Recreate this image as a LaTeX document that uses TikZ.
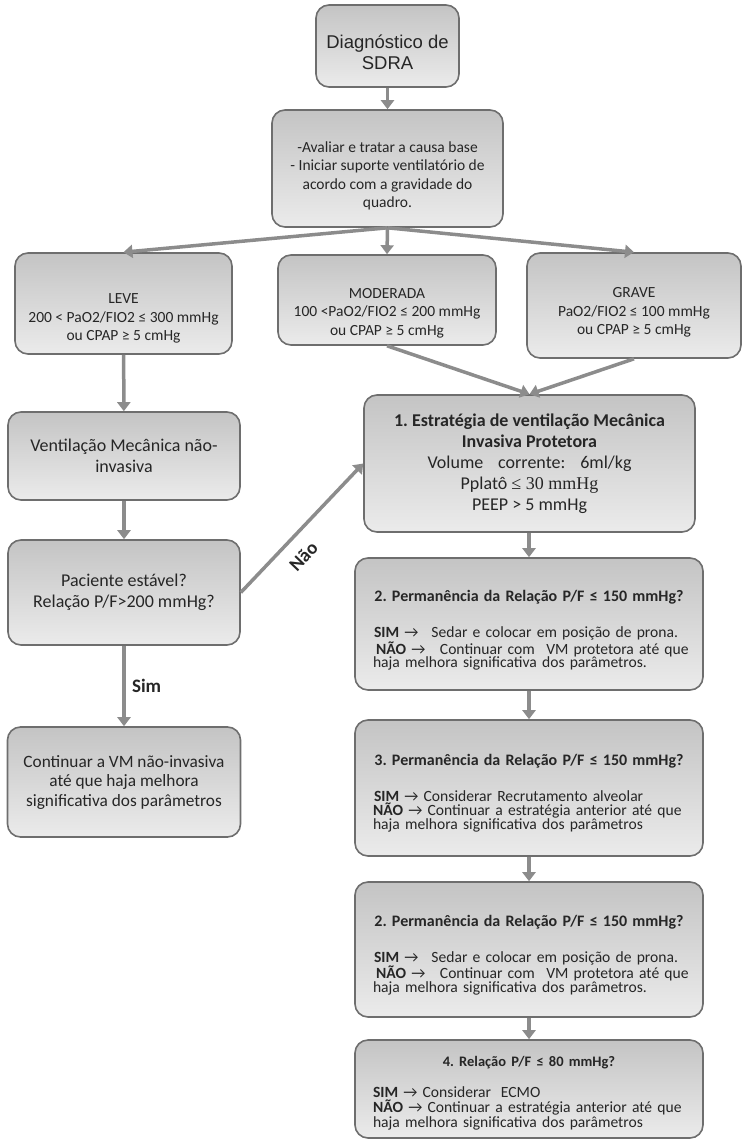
\documentclass[tikz,border=0pt]{standalone}
\usepackage{fontspec}
\setmainfont{Carlito}
\newfontfamily\arialfont{Liberation Sans}
\newfontfamily\timesfont{Liberation Serif}
\usepackage{xcolor}
\usetikzlibrary{arrows.meta}

\definecolor{boxtop}{HTML}{C4C4C4}
\definecolor{boxbot}{HTML}{EBEBEB}
\definecolor{boxedge}{HTML}{6E6E6E}
\definecolor{arrgray}{HTML}{8C8C8C}

\frenchspacing
\newcommand{\seta}{→}
\newcommand{\ttlfont}{\fontsize{16}{16}\selectfont\bfseries}
\newcommand{\jline}[1]{\makebox[\linewidth][s]{#1}}
\newcommand{\lline}[1]{\makebox[\linewidth][l]{#1}}
\newcommand{\down}[1]{\rule{0pt}{#1}}

\begin{document}
\begin{tikzpicture}[
    x=1pt, y=-1pt,
    >={Triangle[width=13pt,length=9pt]},
    box/.style={draw=boxedge, line width=1.6pt, rounded corners=13pt,
                top color=boxtop, bottom color=boxbot, text=black!85,
                align=center, inner sep=3pt},
    txt/.style={font=\fontsize{15.5}{18.5}\selectfont},
    bigtxt/.style={font=\fontsize{18}{21}\selectfont},
    wtxt/.style={font=\fontsize{15.6}{13.5}\selectfont, text width=312pt},
    arr/.style={->, draw=arrgray, line width=3.5pt},
    lab/.style={font=\bfseries\fontsize{19}{22}\selectfont, text=black!85}
]
\useasboundingbox (0,0) rectangle (751,1142);

% --- Top ---
\node[box, font=\arialfont\fontsize{18.5}{21}\selectfont,
      minimum width=143pt, minimum height=82pt] (diag) at (387.5,46)
      {\down{27pt}Diagnóstico de\\SDRA};
\node[box, txt, minimum width=231pt, minimum height=117pt] (causa) at (387.5,168.5)
      {\down{25pt}-Avaliar e tratar a causa base\\- Iniciar suporte ventilatório de\\acordo com a gravidade do\\quadro.};

% --- Gravidade ---
\node[box, txt, minimum width=217pt, minimum height=101pt] (leve) at (123.5,303.5)
      {\down{40pt}LEVE\\200 < PaO2/FIO2 ≤ 300 mmHg\\ou CPAP ≥ 5 cmHg};
\node[box, txt, minimum width=218pt, minimum height=90pt] (moder) at (387,300)
      {\down{36pt}MODERADA\\100 <PaO2/FIO2 ≤ 200 mmHg\\ou CPAP ≥ 5 cmHg};
\node[box, txt, minimum width=214pt, minimum height=105pt] (grave) at (634,305.5)
      {\down{24pt}GRAVE\\PaO2/FIO2 ≤ 100 mmHg\\ou CPAP ≥ 5 cmHg};

% --- Left column ---
\node[box, bigtxt, minimum width=232pt, minimum height=88pt] (vmni) at (124,456)
      {Ventilação Mecânica não-\\invasiva};
\node[box, bigtxt, minimum width=232pt, minimum height=105pt] (estavel) at (124,592.5)
      {Paciente estável?\\Relação P/F>200 mmHg?};
\node[box, font=\fontsize{17.3}{19.5}\selectfont, minimum width=233pt, minimum height=110pt] (contvm) at (124,782)
      {Continuar a VM não-invasiva\\até que haja melhora\\significativa dos parâmetros};

% --- Right column ---
\node[box, bigtxt, minimum width=331pt, minimum height=137pt] (est1) at (529.5,463.5)
      {\textbf{1. Estratégia de ventilação Mecânica}\\\textbf{Invasiva Protetora}\\
       Volume\hspace{0.6em} corrente:\hspace{0.6em} 6ml/kg\\Pplatô {\timesfont ≤ 30 mmHg}\\PEEP > 5 mmHg};
\node[box, wtxt, minimum width=348pt, minimum height=132pt] (perm2) at (529,624)
      {\down{24pt}{\ttlfont 2. Permanência da Relação P/F ≤ 150 mmHg?}\\[21.5pt]
       \lline{\hspace{1pt}\textbf{SIM} \seta\hspace{0.5em} Sedar e colocar em posição de prona.}\\
       \lline{\hspace{3pt}\textbf{NÃO} \seta\hspace{0.6em} Continuar com\hspace{0.4em} VM protetora até que}\\
       \lline{haja melhora significativa dos parâmetros.}};
\node[box, wtxt, minimum width=348pt, minimum height=136pt] (perm3) at (529,788)
      {\down{22pt}{\ttlfont 3. Permanência da Relação P/F ≤ 150 mmHg?}\\[21.5pt]
       \jline{\hspace{1pt}\textbf{SIM} \seta{} Considerar Recrutamento alveolar}\\
       \jline{\textbf{NÃO} \seta{} Continuar a estratégia anterior até que}\\
       \lline{haja melhora significativa dos parâmetros}};
\node[box, wtxt, minimum width=348pt, minimum height=135pt] (perm2b) at (529,949.5)
      {\down{22pt}{\ttlfont 2. Permanência da Relação P/F ≤ 150 mmHg?}\\[21.5pt]
       \lline{\hspace{1pt}\textbf{SIM} \seta\hspace{0.5em} Sedar e colocar em posição de prona.}\\
       \lline{\hspace{3pt}\textbf{NÃO} \seta\hspace{0.6em} Continuar com\hspace{0.4em} VM protetora até que}\\
       \lline{haja melhora significativa dos parâmetros.}};
\node[box, wtxt, font=\fontsize{15.6}{15}\selectfont, minimum width=348pt, minimum height=98pt] (rel4) at (529,1089)
      {\down{19pt}{\fontsize{14.5}{16}\selectfont\bfseries 4. Relação P/F ≤ 80 mmHg?}\\[16pt]
       \lline{\textbf{SIM} \seta{} Considerar\hspace{0.3em} ECMO}\\
       \jline{\textbf{NÃO} \seta{} Continuar a estratégia anterior até que}\\
       \lline{haja melhora significativa dos parâmetros}};

% --- Connectors ---
\path
(diag) edge[arr] (causa)
(causa.south) edge[arr] (leve.north)
(causa.south) edge[arr] (moder.north)
(causa.south) edge[arr] (grave.north)
(leve) edge[arr] (vmni)
(vmni) edge[arr] (estavel)
(estavel) edge[arr] node[lab, midway, right=3pt] {Sim} (contvm)
(estavel.east) edge[arr] node[lab, pos=0.39, sloped, below=9pt] {Não} (est1.west)
(moder.south) edge[arr] (est1.north)
(grave.south) edge[arr] (est1.north)
(est1.south -| perm2.north) edge[arr] (perm2.north)
(perm2) edge[arr] (perm3)
(perm3) edge[arr] (perm2b)
(perm2b) edge[arr] (rel4);

\end{tikzpicture}
\end{document}
